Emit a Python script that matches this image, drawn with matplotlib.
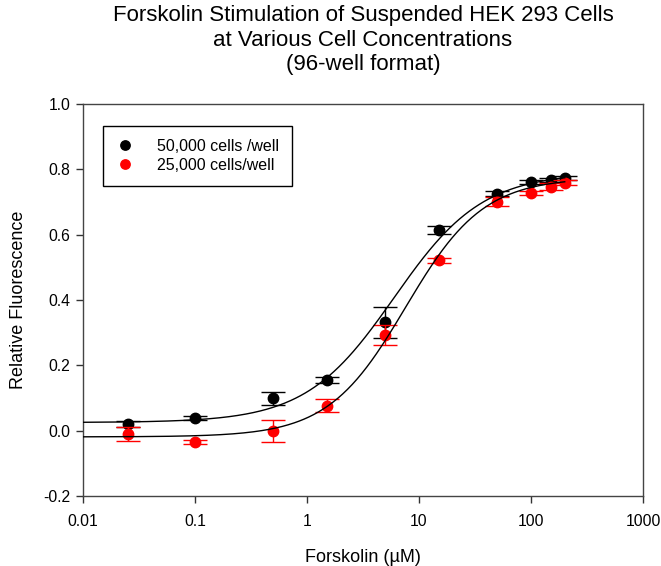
import numpy as np
import matplotlib
matplotlib.use("Agg")
import matplotlib.pyplot as plt

plt.rcParams['font.family'] = ['Liberation Sans', 'DejaVu Sans']

# Data
conc = [0.025, 0.1, 0.5, 1.5, 5, 15, 50, 100, 150, 200]
black_y = [0.020, 0.040, 0.099, 0.155, 0.332, 0.614, 0.725, 0.762, 0.767, 0.773]
black_err = [0.010, 0.006, 0.020, 0.008, 0.047, 0.013, 0.008, 0.006, 0.006, 0.006]
red_y = [-0.010, -0.034, -0.001, 0.076, 0.293, 0.522, 0.701, 0.727, 0.747, 0.759]
red_err = [0.021, 0.006, 0.033, 0.020, 0.030, 0.008, 0.014, 0.006, 0.010, 0.008]

# Sigmoidal fit parameters (bottom, top, EC50, Hill slope)
black_fit = (0.025, 0.790, 6.0, 1.1)
red_fit = (-0.019, 0.775, 7.6, 1.25)

labels = ["50,000 cells /well", "25,000 cells/well"]
xticks = [0.01, 0.1, 1, 10, 100, 1000]
xtick_labels = ["0.01", "0.1", "1", "10", "100", "1000"]
yticks = [-0.2, 0.0, 0.2, 0.4, 0.6, 0.8, 1.0]
ytick_labels = ["-0.2", "0.0", "0.2", "0.4", "0.6", "0.8", "1.0"]


def logistic(x, p):
    b, t, ec, h = p
    return b + (t - b) / (1 + (ec / x) ** h)


fig = plt.figure(figsize=(6.61, 5.66), dpi=100)
ax = fig.add_axes([83 / 661, 1 - 496 / 566, 560 / 661, 392 / 566])

xs = np.logspace(np.log10(0.01), np.log10(max(conc)), 400)
ax.plot(xs, logistic(xs, black_fit), color='black', lw=1.0, zorder=4)
ax.plot(xs, logistic(xs, red_fit), color='black', lw=1.0, zorder=4)

ax.errorbar(conc, black_y, yerr=black_err, fmt='o', color='black', ms=7.5,
            capsize=8.5, elinewidth=1.0, capthick=1.0, label=labels[0], zorder=2)
ax.errorbar(conc, red_y, yerr=red_err, fmt='o', color='#ff0000', ms=7.5,
            capsize=8.5, elinewidth=1.0, capthick=1.0, label=labels[1], zorder=3)

ax.set_xscale('log')
ax.set_xlim(0.01, 1000)
ax.set_ylim(-0.2, 1.0)
ax.set_xticks(xticks)
ax.set_xticklabels(xtick_labels)
ax.xaxis.set_minor_locator(matplotlib.ticker.NullLocator())
ax.set_yticks(yticks)
ax.set_yticklabels(ytick_labels)
ax.tick_params(direction='out', length=5, width=1, labelsize=11.3, color='#333333',
               top=False, right=False)
ax.tick_params(axis='x', pad=8)
ax.tick_params(axis='y', pad=4)
for s in ax.spines.values():
    s.set_linewidth(1.0)
    s.set_color('#444444')

ax.set_xlabel("Forskolin (µM)", fontsize=13, labelpad=14)
ax.set_ylabel("Relative Fluorescence", fontsize=13, labelpad=12)

fig.text((83 + 643) / 2 / 661, 1 - 5 / 566,
         "Forskolin Stimulation of Suspended HEK 293 Cells\n"
         "at Various Cell Concentrations\n(96-well format)",
         ha='center', va='top', fontsize=16, linespacing=1.22)

h, l = ax.get_legend_handles_labels()
h = [hh[0] for hh in h]
leg = ax.legend(h, l, loc='upper left', bbox_to_anchor=(0.0357, 0.944),
                borderaxespad=0, fontsize=11.5, fancybox=False, framealpha=1,
                edgecolor='black', handlelength=1.2, handletextpad=1.4,
                borderpad=0.8, labelspacing=0.25, markerscale=0.9)
leg.get_frame().set_linewidth(1.0)
leg.set_zorder(10)

fig.savefig("out.png", dpi=100)
